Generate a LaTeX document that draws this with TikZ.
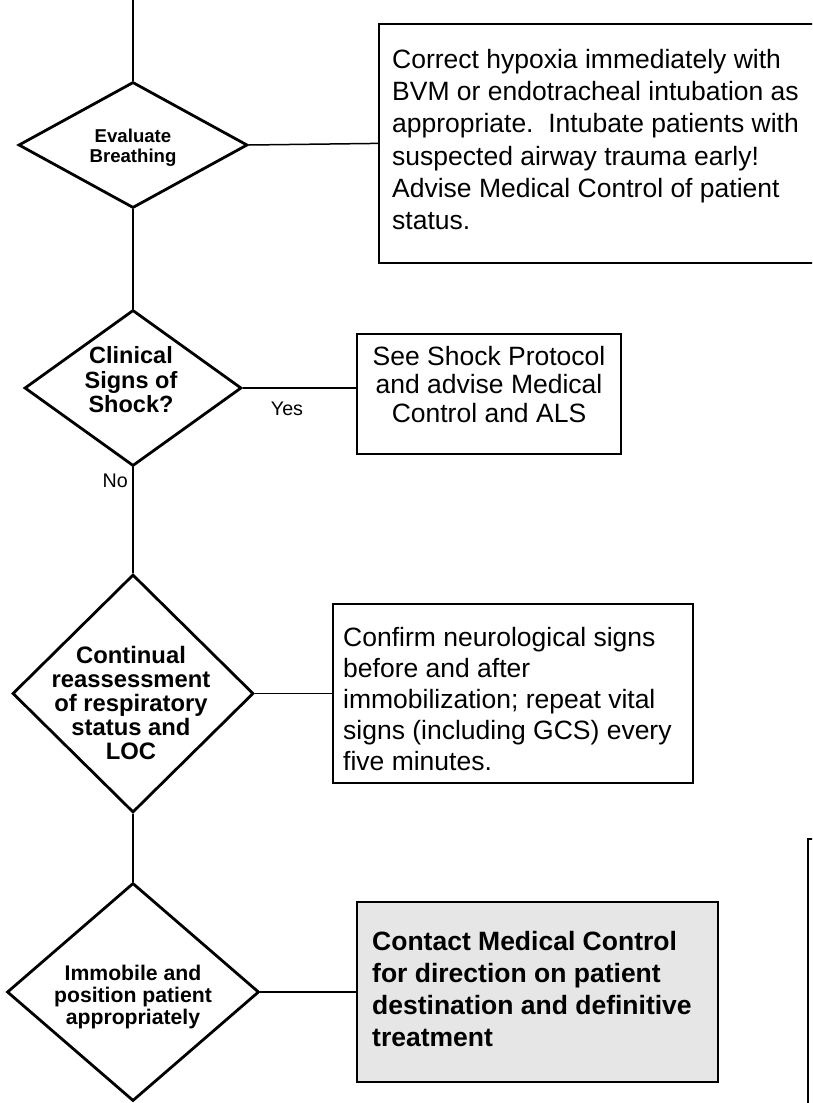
\documentclass[tikz,border=0pt]{standalone}
\usepackage{fontspec}
\setmainfont{Liberation Sans}
\usetikzlibrary{shapes.geometric}
\definecolor{boxgray}{HTML}{E6E6E6}
\begin{document}
\begin{tikzpicture}[x=1pt,y=-1pt,
  dia/.style={draw, shape=diamond, line width=2.8pt, inner sep=0pt},
  box/.style={draw, rectangle, line width=1.8pt, inner sep=0pt},
  conn/.style={line width=1.5pt},
  dtext/.style={align=center, inner sep=0pt},
  btext/.style={align=left, inner sep=0pt},
  ctext/.style={align=center, inner sep=0pt},
  lbl/.style={inner sep=0pt, font=\fontsize{19.7}{22}\selectfont},
]
\useasboundingbox (0,0) rectangle (812,1103);
\clip (0,0) rectangle (812,1103);

% decision diamonds
\coordinate (top) at (133,-5);
\node[dia, minimum width=229pt, minimum height=126pt] (d1) at (133,145) {};
\node[dia, minimum width=217pt, minimum height=156pt] (d2) at (133,388) {};
\node[dia, minimum width=241pt, minimum height=238pt] (d3) at (133,693.5) {};
\node[dia, minimum width=252pt, minimum height=218pt] (d4) at (133,992) {};

% boxes
\node[box, minimum width=462pt, minimum height=239pt, anchor=north west] (b1) at (378,23) {};
\node[box, minimum width=264pt, minimum height=120pt] (b2) at (489,394) {};
\node[box, minimum width=360pt, minimum height=179pt] (b3) at (513,693.5) {};
\node[box, fill=boxgray, line width=2.6pt, minimum width=361pt, minimum height=180pt] (b4) at (537.5,992) {};
\node[box, minimum width=43pt, minimum height=292pt, anchor=north west] (b5) at (807,838) {};

% connectors
\draw[conn] (top) -- (d1.north);
\draw[conn] (d1.south) -- (d2.north);
\draw[conn] (d2.south) -- (d3.north);
\draw[conn] (d3.south) -- (d4.north);
\draw[conn] (d1.east) -- (b1.west);
\draw[conn] (d2.east) -- (d2.east -| b2.west);
\draw[conn] (d3.east) -- (b3.west);
\draw[conn] (d4.east) -- (b4.west);

% labels
\node[lbl, anchor=base] (yes) at (287,415) {Yes};
\node[lbl, anchor=base east] (no) at (128,487) {No};

% diamond texts
\node[dtext, font=\bfseries\fontsize{18.6}{20}\selectfont, anchor=north] (d1t) at (133,128) {\strut Evaluate\\Breathing\strut};
\node[dtext, font=\bfseries\fontsize{23.5}{24}\selectfont, anchor=north] (d2t) at (131,346.2) {\strut Clinical\\Signs of\\Shock?\strut};
\node[dtext, font=\bfseries\fontsize{23.8}{24}\selectfont, anchor=north] (d3t) at (131,646.2) {\strut Continual\\reassessment\\of respiratory\\status and\\LOC\strut};
\node[dtext, font=\bfseries\fontsize{21.2}{22}\selectfont, anchor=north] (d4t) at (133,965.1) {\strut Immobile and\\position patient\\appropriately\strut};

% box texts
\node[btext, font=\fontsize{26.5}{32.3}\selectfont, anchor=north west] (b1t) at (392,45.4) {\strut Correct hypoxia immediately with\\BVM or endotracheal intubation as\\appropriate.\ \ Intubate patients with\\suspected airway trauma early!\\Advise Medical Control of patient\\status.\strut};
\node[ctext, font=\fontsize{26.5}{28.7}\selectfont, anchor=north] (b2t) at (489,344.9) {\strut See Shock Protocol\\and advise Medical\\Control and ALS\strut};
\node[btext, font=\fontsize{26.5}{31}\selectfont, anchor=north west] (b3t) at (343,625) {\strut Confirm neurological signs\\before and after\\immobilization; repeat vital\\signs (including GCS) every\\five minutes.\strut};
\node[btext, font=\bfseries\fontsize{26.5}{32}\selectfont, anchor=north west] (b4t) at (372,927.6) {\strut Contact Medical Control\\for direction on patient\\destination and definitive\\treatment\strut};
\end{tikzpicture}
\end{document}
